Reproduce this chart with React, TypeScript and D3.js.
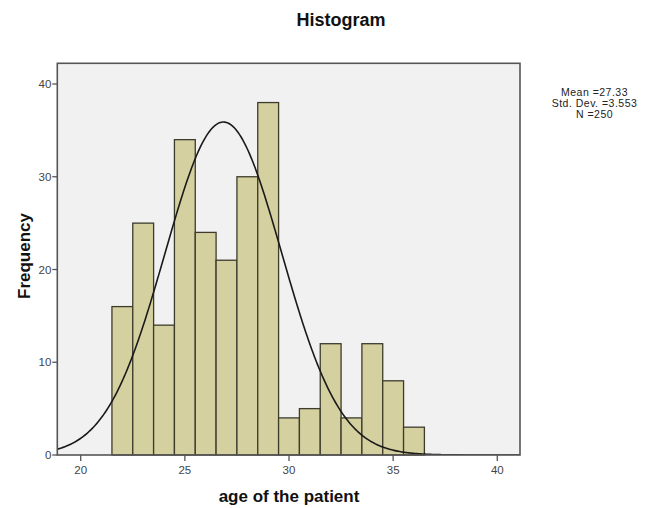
import React from "react";
import * as d3 from "d3";

const binStarts = [21.5, 22.5, 23.5, 24.5, 25.5, 26.5, 27.5, 28.5, 29.5, 30.5, 31.5, 32.5, 33.5, 34.5, 35.5];
const binCounts = [16, 25, 14, 34, 24, 21, 30, 38, 4, 5, 12, 4, 12, 8, 3];
const binWidth = 1;
const xTicks = [20, 25, 30, 35, 40];
const yTicks = [0, 10, 20, 30, 40];
const statsLines = ["Mean =27.33", "Std. Dev. =3.553", "N =250"];
// normal curve as drawn in the picture
const curveMean = 26.85;
const curveSD = 2.8;
const curvePeak = 35.9;

const W = 654;
const H = 508;
const left = 57.3;
const right = 520;
const top = 63.3;
const bottom = 455;

export default function App() {
  const x = d3.scaleLinear().domain([20, 40]).range([80.7, 497.3]);
  const y = d3.scaleLinear().domain([0, 40]).range([455, 84]);
  const xMin = x.invert(left);
  const xMax = x.invert(right);
  const pts = d3.range(0, 401).map((i) => xMin + ((xMax - xMin) * i) / 400);
  const line = d3
    .line<number>()
    .x((v) => x(v))
    .y((v) => y(curvePeak * Math.exp(-((v - curveMean) ** 2) / (2 * curveSD * curveSD))))
    .curve(d3.curveLinear);
  const font = "Arial, 'Liberation Sans', sans-serif";
  return (
    <svg width={W} height={H} style={{ position: "absolute", left: 0, top: 0, background: "#fff" }}>
      <text x={341} y={26} textAnchor="middle" fontFamily={font} fontWeight="bold" fontSize={18} fill="#111">
        Histogram
      </text>
      <rect x={left} y={top} width={right - left} height={bottom - top} fill="#f1f1f1" />
      <defs>
        <clipPath id="plotclip">
          <rect x={left} y={top} width={right - left} height={bottom - top} />
        </clipPath>
      </defs>
      {binCounts.map((c, i) => (
        <rect
          key={i}
          x={x(binStarts[i])}
          y={y(c)}
          width={x(binStarts[i] + binWidth) - x(binStarts[i])}
          height={y(0) - y(c)}
          fill="#d5d09f"
          stroke="#3d3b2c"
          strokeWidth={1.3}
        />
      ))}
      <path d={line(pts) || ""} fill="none" stroke="#1a1a1a" strokeWidth={1.6} clipPath="url(#plotclip)" />
      <rect x={left} y={top} width={right - left} height={bottom - top} fill="none" stroke="#555" strokeWidth={1.6} />
      {yTicks.map((t) => (
        <g key={t}>
          <line x1={left - 5} x2={left} y1={y(t)} y2={y(t)} stroke="#555" strokeWidth={1.3} />
          <text x={left - 6} y={y(t) + 4} textAnchor="end" fontFamily={font} fontSize={11.5} fill="#444">
            {t}
          </text>
        </g>
      ))}
      {xTicks.map((t) => (
        <g key={t}>
          <line x1={x(t)} x2={x(t)} y1={bottom} y2={bottom + 6} stroke="#555" strokeWidth={1.3} />
          <text x={x(t)} y={bottom + 19} textAnchor="middle" fontFamily={font} fontSize={11.5} fill="#444">
            {t}
          </text>
        </g>
      ))}
      <text x={289} y={502} textAnchor="middle" fontFamily={font} fontWeight="bold" fontSize={17} fill="#111">
        age of the patient
      </text>
      <text
        transform={`translate(30,256) rotate(-90)`}
        textAnchor="middle"
        fontFamily={font}
        fontWeight="bold"
        fontSize={17}
        fill="#111"
      >
        Frequency
      </text>
      {statsLines.map((s, i) => (
        <text
          key={i}
          x={594.5}
          y={96 + i * 11}
          textAnchor="middle"
          fontFamily={font}
          fontSize={10.5}
          letterSpacing={0.5}
          fill="#222"
        >
          {s}
        </text>
      ))}
    </svg>
  );
}
